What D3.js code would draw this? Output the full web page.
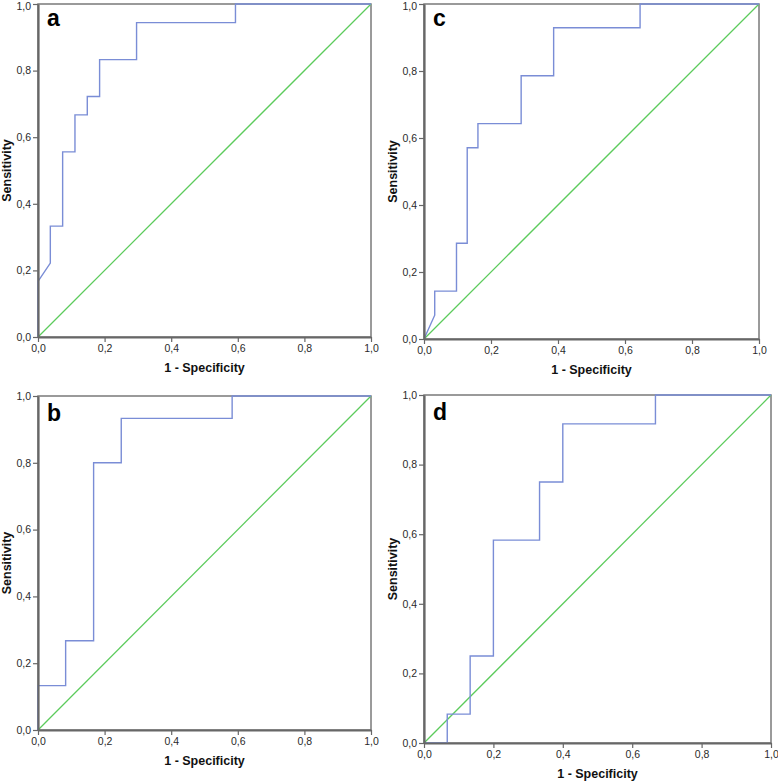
<!DOCTYPE html>
<html><head><meta charset="utf-8">
<script src="https://cdn.jsdelivr.net/npm/d3@7"></script>
<style>
html,body{margin:0;padding:0;background:#fff;}
svg{display:block;font-family:"Liberation Sans",Arial,sans-serif;}
</style></head>
<body>
<svg id="chart" width="778" height="781"></svg>
<script>
// ROC data (1 - specificity, sensitivity)
const panelLabels = ["a", "c", "b", "d"];
const tickValues = [0, 0.2, 0.4, 0.6, 0.8, 1.0];
const tickLabels = ["0,0", "0,2", "0,4", "0,6", "0,8", "1,0"];
const xTitle = "1 - Specificity";
const yTitle = "Sensitivity";

const fprA = [0, 0, 0.037, 0.037, 0.074, 0.074, 0.111, 0.111, 0.148, 0.148, 0.185, 0.185, 0.296, 0.296, 0.593, 0.593, 1];
const tprA = [0, 0.167, 0.222, 0.333, 0.333, 0.556, 0.556, 0.667, 0.667, 0.722, 0.722, 0.833, 0.833, 0.944, 0.944, 1, 1];

const fprC = [0, 0.032, 0.032, 0.097, 0.097, 0.129, 0.129, 0.161, 0.161, 0.290, 0.290, 0.387, 0.387, 0.645, 0.645, 1];
const tprC = [0, 0.071, 0.143, 0.143, 0.286, 0.286, 0.571, 0.571, 0.643, 0.643, 0.786, 0.786, 0.929, 0.929, 1, 1];

const fprB = [0, 0, 0.083, 0.083, 0.167, 0.167, 0.25, 0.25, 0.583, 0.583, 1];
const tprB = [0, 0.133, 0.133, 0.267, 0.267, 0.8, 0.8, 0.933, 0.933, 1, 1];

const fprD = [0, 0.067, 0.067, 0.133, 0.133, 0.2, 0.2, 0.333, 0.333, 0.4, 0.4, 0.667, 0.667, 1];
const tprD = [0, 0, 0.083, 0.083, 0.25, 0.25, 0.583, 0.583, 0.75, 0.75, 0.917, 0.917, 1, 1];

const refX = [0, 1];
const refY = [0, 1];

const fprs = [fprA, fprC, fprB, fprD];
const tprs = [tprA, tprC, tprB, tprD];

// layout (plot frames in pixels)
const frames = [
  {x0: 38, x1: 371, y0: 4, y1: 337, yTitleX: 7},
  {x0: 424, x1: 759, y0: 4, y1: 339, yTitleX: 393},
  {x0: 38, x1: 371, y0: 396, y1: 730, yTitleX: 7},
  {x0: 424, x1: 771, y0: 395, y1: 743, yTitleX: 393}
];

const svg = d3.select("#chart");
const curveColor = "#7a8dd6";
const refColor = "#5ccb5c";
const axisColor = "#676767";
const textColor = "#2a2a2a";

frames.forEach((f, i) => {
  const x = d3.scaleLinear().domain([0, 1]).range([f.x0, f.x1]);
  const y = d3.scaleLinear().domain([0, 1]).range([f.y1, f.y0]);
  const g = svg.append("g");

  // frame (top/right)
  g.append("rect").attr("x", f.x0).attr("y", f.y0)
    .attr("width", f.x1 - f.x0).attr("height", f.y1 - f.y0)
    .attr("fill", "none").attr("stroke", "#7a7a7a").attr("stroke-width", 1.5);

  // reference line
  const refPts = refX.map((v, k) => [v, refY[k]]);
  g.append("path").datum(refPts)
    .attr("d", d3.line().x(d => x(d[0])).y(d => y(d[1])))
    .attr("fill", "none").attr("stroke", refColor).attr("stroke-width", 1.25);

  // ROC curve
  const pts = fprs[i].map((v, k) => [v, tprs[i][k]]);
  g.append("path").datum(pts)
    .attr("d", d3.line().x(d => x(d[0])).y(d => y(d[1])))
    .attr("fill", "none").attr("stroke", curveColor).attr("stroke-width", 1.4);

  // axes
  const xAxis = d3.axisBottom(x).tickValues(tickValues)
    .tickFormat((d, k) => tickLabels[k]).tickSizeInner(5).tickSizeOuter(0).tickPadding(3);
  const yAxis = d3.axisLeft(y).tickValues(tickValues)
    .tickFormat((d, k) => tickLabels[k]).tickSizeInner(5).tickSizeOuter(0).tickPadding(2);

  const gx = g.append("g").attr("transform", `translate(0,${f.y1})`).call(xAxis);
  const gy = g.append("g").attr("transform", `translate(${f.x0},0)`).call(yAxis);
  [gx, gy].forEach(a => {
    a.select(".domain").attr("stroke", axisColor).attr("stroke-width", 2.2);
    a.selectAll(".tick line").attr("stroke", axisColor).attr("stroke-width", 1.2);
    a.selectAll(".tick text").attr("fill", textColor)
      .style("font-size", "10.5px").style("font-family", "'Liberation Sans', Arial, sans-serif");
  });
  // keep the top "1,0" label inside the picture for the upper panels
  if (f.y0 < 10) {
    gy.selectAll(".tick text").filter(d => d === 1).attr("y", 2);
  }

  // axis titles
  g.append("text").attr("x", (f.x0 + f.x1) / 2).attr("y", f.y1 + 35)
    .attr("text-anchor", "middle").attr("fill", "#111")
    .style("font-size", "12.5px").style("font-weight", "bold").text(xTitle);
  g.append("text")
    .attr("transform", `translate(${f.yTitleX + 4},${(f.y0 + f.y1) / 2}) rotate(-90)`)
    .attr("text-anchor", "middle").attr("fill", "#111")
    .style("font-size", "12.5px").style("font-weight", "bold").text(yTitle);

  // panel letter
  g.append("text").attr("x", f.x0 + 9).attr("y", f.y0 + 22 + (i >= 2 ? 3 : 0))
    .attr("fill", "#000").style("font-size", "23px").style("font-weight", "bold")
    .text(panelLabels[i]);
});
</script>
</body></html>
